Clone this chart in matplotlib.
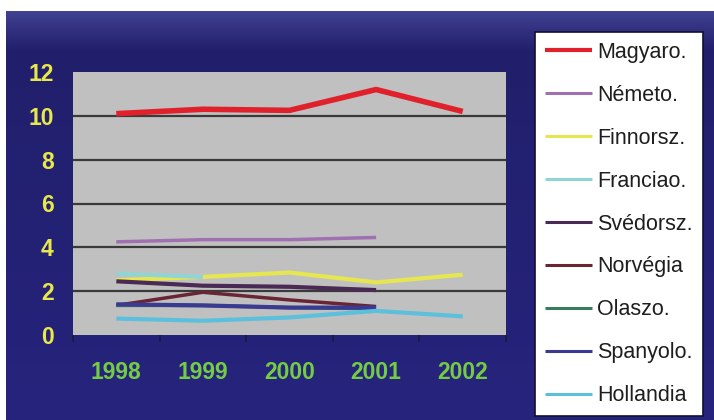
import numpy as np
import matplotlib
matplotlib.use("Agg")
import matplotlib.pyplot as plt

nan = np.nan

years = ["1998", "1999", "2000", "2001", "2002"]
magyaro = [10.1, 10.3, 10.25, 11.2, 10.2]
nemeto = [4.25, 4.35, 4.35, 4.45, nan]
finnorsz = [2.5, 2.65, 2.85, 2.4, 2.75]
franciao = [2.8, 2.65, nan, nan, nan]
svedorsz = [2.45, 2.25, 2.2, 2.05, nan]
norvegia = [1.35, 1.95, 1.6, 1.3, nan]
olaszo = [1.35, 1.35, 1.25, 1.2, nan]
spanyolo = [1.4, 1.35, 1.25, 1.25, nan]
hollandia = [0.75, 0.65, 0.8, 1.1, 0.85]

labels = ["Magyaro.", "Németo.", "Finnorsz.", "Franciao.", "Svédorsz.",
          "Norvégia", "Olaszo.", "Spanyolo.", "Hollandia"]
series = [magyaro, nemeto, finnorsz, franciao, svedorsz,
          norvegia, olaszo, spanyolo, hollandia]
colors = ["#e0202a", "#a070b0", "#e6e650", "#90d4d4", "#4a2a55",
          "#6a2535", "#3a7a60", "#3a3a90", "#5cc0dc"]
widths = [4.0, 2.5, 3.0, 3.0, 3.0, 2.5, 2.5, 3.0, 3.0]

W, H = 714, 420
fig = plt.figure(figsize=(W / 100, H / 100), dpi=100, facecolor="white")

# navy slide background, a bit lighter along the top edge
bg = fig.add_axes([6 / W, 0, 1 - 6 / W, (H - 11) / H])
bg.set_axis_off()
bg.set_xlim(0, 1)
bg.set_ylim(0, 1)
bg.add_patch(plt.Rectangle((0, 0), 1, 1, color="#25237c"))
top = np.array([0.25, 0.25, 0.57])
mid = np.array([0.13, 0.12, 0.42])
n = 20
for i in range(n):
    f = i / (n - 1)
    c = top * (1 - f) + mid * f
    y1 = 1 - i * 0.1 / n
    bg.axhspan(y1 - 0.1 / n, y1, color=tuple(c), lw=0)
for i in range(n):
    f = i / (n - 1)
    c = mid * (1 - f) + np.array([0.145, 0.138, 0.486]) * f
    y1 = 0.9 - i * 0.9 / n
    bg.axhspan(y1 - 0.9 / n, y1, color=tuple(c), lw=0)

ax = fig.add_axes([73 / W, (H - 335) / H, (506 - 73) / W, (335 - 72) / H])
ax.set_facecolor("#c0c0c0")
x = np.arange(len(years))
for vals, lab, col, lw in zip(series, labels, colors, widths):
    ax.plot(x, vals, color=col, linewidth=lw, label=lab,
            solid_capstyle="butt", zorder=3)

ax.set_xlim(-0.5, len(years) - 0.5)
ax.set_ylim(0, 12)
ax.set_yticks(range(0, 13, 2))
ax.set_yticklabels([str(v) for v in range(0, 13, 2)])
ax.set_xticks(np.arange(-0.5, len(years), 1.0))
ax.set_xticklabels([])
ax.set_xticks(x, minor=True)
ax.set_xticklabels(years, minor=True)
ax.tick_params(axis="x", which="major", length=5, width=1.2,
               color="#1a1a40", direction="out")
ax.tick_params(axis="x", which="minor", length=0, pad=19,
               labelsize=16.5, labelcolor="#74cc44")
ax.tick_params(axis="y", length=0, pad=14, labelsize=16.5,
               labelcolor="#e8e84a")
for t in ax.get_xticklabels(minor=True) + ax.get_yticklabels():
    t.set_fontweight("bold")
    t.set_family("Liberation Sans")
for y in range(2, 12, 2):
    ax.axhline(y, color="#3a3a3a", linewidth=1.6, zorder=2)
for s in ax.spines.values():
    s.set_visible(False)

leg = fig.legend(loc="upper left", bbox_to_anchor=(535 / W, (H - 32) / H),
                 bbox_transform=fig.transFigure, frameon=True, fancybox=False,
                 framealpha=1.0,
                 prop={"family": "Liberation Sans", "size": 15.5},
                 handlelength=2.2, handletextpad=0.25, labelspacing=1.02,
                 borderpad=0.45, borderaxespad=0)
leg.get_frame().set_facecolor("white")
leg.get_frame().set_edgecolor("#101030")
leg.get_frame().set_linewidth(1.2)
for t in leg.get_texts():
    t.set_color("#1e1e1e")
for h, lw in zip(leg.get_lines(), widths):
    h.set_linewidth(3.0 if lw >= 4 else 2.2)

fig.savefig("out.png", dpi=100, facecolor="white")
